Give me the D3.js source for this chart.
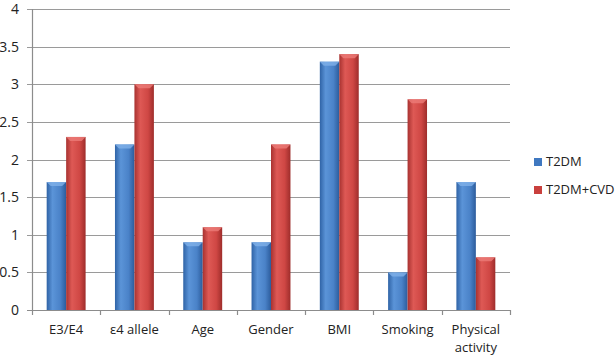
<!DOCTYPE html>
<html>
<head>
<meta charset="utf-8">
<script src="https://cdn.jsdelivr.net/npm/d3@7"></script>
<style>
  body { margin: 0; background: #fff; }
  text { font-family: "Open Sans", "Liberation Sans", sans-serif; }
</style>
</head>
<body>
<svg id="chart"></svg>
<script>
(function () {
    const W = 615;
    const H = 356;
    const margin = { top: 9, right: 105, bottom: 46, left: 32 };

    const categories = ["E3/E4", "\u03b54 allele", "Age", "Gender", "BMI", "Smoking", "Physical activity"];
    const t2dm = [1.7, 2.2, 0.9, 0.9, 3.3, 0.5, 1.7];
    const t2dmCvd = [2.3, 3.0, 1.1, 2.2, 3.4, 2.8, 0.7];
    const seriesNames = ["T2DM", "T2DM+CVD"];
    const yTicks = [0, 0.5, 1, 1.5, 2, 2.5, 3, 3.5, 4];

    const svg = d3.select("#chart")
        .attr("width", W)
        .attr("height", H);

    const defs = svg.append("defs");
    const grads = [
        { id: "gBlue", stops: ["#2f63a6", "#5b94d8", "#4a82c8", "#2c5c9c"] },
        { id: "gRed", stops: ["#a83230", "#de5955", "#cf4744", "#9e2d2b"] }
    ];
    grads.forEach(g => {
        const lg = defs.append("linearGradient").attr("id", g.id)
            .attr("x1", "0%").attr("x2", "100%").attr("y1", "0%").attr("y2", "0%");
        [0, 0.3, 0.7, 1].forEach((o, i) => {
            lg.append("stop").attr("offset", o).attr("stop-color", g.stops[i]);
        });
    });
    const colors = ["url(#gBlue)", "url(#gRed)"];
    const legendColors = ["#3f78c0", "#c9403d"];

    const x = d3.scaleBand()
        .domain(categories)
        .range([margin.left, W - margin.right])
        .paddingInner(0.43)
        .paddingOuter(0.215);

    const x1 = d3.scaleBand()
        .domain(seriesNames)
        .range([0, x.bandwidth()]);

    const y = d3.scaleLinear()
        .domain([0, 4])
        .range([H - margin.bottom, margin.top]);

    // gridlines
    svg.append("g")
        .selectAll("line")
        .data(yTicks)
        .enter().append("line")
        .attr("x1", margin.left - 5)
        .attr("x2", W - margin.right)
        .attr("y1", d => Math.round(y(d)) + 0.5)
        .attr("y2", d => Math.round(y(d)) + 0.5)
        .attr("stroke", d => d === 0 ? "#8c8c8c" : "#9a9a9a")
        .attr("stroke-width", 1.2);

    // y labels
    svg.append("g")
        .selectAll("text")
        .data(yTicks)
        .enter().append("text")
        .attr("x", 19)
        .attr("y", d => y(d) + 5)
        .attr("text-anchor", "end")
        .attr("font-size", 14)
        .attr("fill", "#222")
        .text(d => d);

    // y axis line
    svg.append("line")
        .attr("x1", margin.left + 0.5).attr("x2", margin.left + 0.5)
        .attr("y1", y(4)).attr("y2", y(0))
        .attr("stroke", "#8c8c8c").attr("stroke-width", 1.2);

    // x ticks between categories
    const step = (W - margin.right - margin.left) / categories.length;
    const xTickPos = d3.range(categories.length + 1).map(i => margin.left + i * step);
    svg.append("g")
        .selectAll("line")
        .data(xTickPos)
        .enter().append("line")
        .attr("x1", d => Math.round(d) + 0.5)
        .attr("x2", d => Math.round(d) + 0.5)
        .attr("y1", y(0))
        .attr("y2", y(0) + 5)
        .attr("stroke", "#8c8c8c")
        .attr("stroke-width", 1.2);

    // bars
    const groups = svg.append("g")
        .selectAll("g")
        .data(categories)
        .enter().append("g")
        .attr("transform", d => `translate(${x(d)},0)`);

    groups.selectAll("rect")
        .data((d, i) => [t2dm[i], t2dmCvd[i]].map((v, j) => ({ key: seriesNames[j], v, j })))
        .enter().append("rect")
        .attr("x", d => x1(d.key))
        .attr("width", x1.bandwidth())
        .attr("y", d => y(d.v))
        .attr("height", d => y(0) - y(d.v))
        .attr("fill", d => colors[d.j]);

    // top bevel highlight
    groups.selectAll("path")
        .data((d, i) => [t2dm[i], t2dmCvd[i]].map((v, j) => ({ key: seriesNames[j], v, j })))
        .enter().append("path")
        .attr("d", d => {
            const x0 = x1(d.key), w = x1.bandwidth(), t = y(d.v);
            return `M${x0},${t}L${x0 + w},${t}L${x0 + w - 4},${t + 4}L${x0 + 4},${t + 4}Z`;
        })
        .attr("fill", d => d.j === 0 ? "#7fb0e8" : "#ec7c78")
        .attr("opacity", 0.8);

    // x labels
    svg.append("g")
        .selectAll("text")
        .data(categories)
        .enter().append("text")
        .attr("x", d => x(d) + x.bandwidth() / 2)
        .attr("y", 334)
        .attr("text-anchor", "middle")
        .attr("font-size", 13)
        .attr("fill", "#222")
        .each(function (d) {
            const parts = d === "Physical activity" ? ["Physical", "activity"] : [d];
            parts.forEach((p, i) => {
                d3.select(this).append("tspan")
                    .attr("x", x(d) + x.bandwidth() / 2)
                    .attr("dy", i === 0 ? 0 : 18)
                    .text(p);
            });
        });

    // legend
    const legend = svg.append("g")
        .selectAll("g")
        .data(seriesNames)
        .enter().append("g")
        .attr("transform", (d, i) => `translate(534,${158 + i * 28})`);

    legend.append("rect")
        .attr("width", 8).attr("height", 8)
        .attr("fill", (d, i) => legendColors[i]);

    legend.append("text")
        .attr("x", 12)
        .attr("y", 8)
        .attr("font-size", 13)
        .attr("fill", "#222")
        .text(d => d);
})();
</script>
</body>
</html>
